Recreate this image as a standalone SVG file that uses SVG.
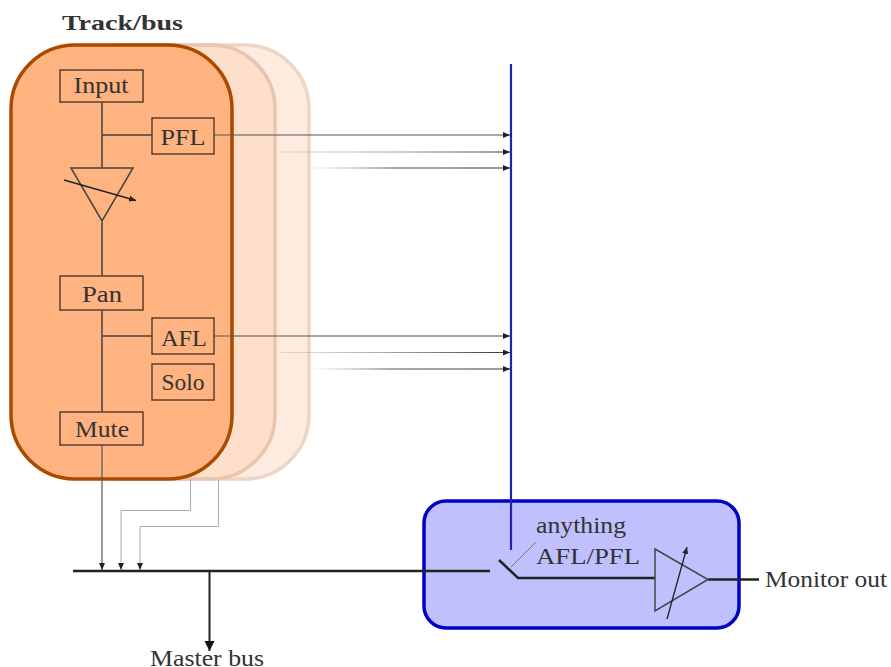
<svg xmlns="http://www.w3.org/2000/svg" width="891" height="667" viewBox="0 0 891 667">
<style>
text{font-family:"Liberation Serif","Times New Roman",serif;font-size:24px;fill:#333;text-anchor:middle}
.b{fill:none;stroke:#5a4030;stroke-width:1.5}
.w{fill:none;stroke:#444;stroke-width:1.5}
.k{fill:none;stroke:#222;stroke-width:2.5}
.t{fill:none;stroke:#555;stroke-width:1.2}
</style>
<defs>
<marker id="a" markerUnits="userSpaceOnUse" markerWidth="8" markerHeight="6" refX="7" refY="3" orient="auto"><path d="M0 0L7 3L0 6Z" fill="#222"/></marker>
<marker id="big" markerUnits="userSpaceOnUse" markerWidth="11" markerHeight="11" refX="10" refY="5" orient="auto"><path d="M0 0L10 5L0 10Z" fill="#111"/></marker>
<linearGradient id="f1" gradientUnits="userSpaceOnUse" x1="280" y1="0" x2="510" y2="0"><stop offset="0" stop-color="#999" stop-opacity=".25"/><stop offset="1" stop-color="#333"/></linearGradient>
<linearGradient id="f2" gradientUnits="userSpaceOnUse" x1="312" y1="0" x2="510" y2="0"><stop offset="0" stop-color="#999" stop-opacity=".1"/><stop offset=".4" stop-color="#555"/><stop offset="1" stop-color="#333"/></linearGradient>
</defs>
<g id="track-back-2"><rect x="88" y="45" width="221" height="434" rx="64" fill="#fdebdf" stroke="#ecd6c6" stroke-width="3.5"/></g>
<g id="track-back-1"><rect x="54" y="45" width="221" height="434" rx="64" fill="#fddfca" stroke="#e8c6ae" stroke-width="3.5"/></g>
<g id="track-front"><rect x="11" y="45" width="221" height="434" rx="64" fill="#ffb380" stroke="#a84b00" stroke-width="3.5"/></g>
<g id="monitor-panel"><rect x="424" y="501" width="315" height="127" rx="22" fill="#c0c0ff" stroke="#0000c8" stroke-width="3.5"/></g>
<g id="connectors">
<path class="w" d="M102 102V168M102 135H152M102 222V276M102 310V412M102 336H152"/>
<path class="t" d="M214 135H510" marker-end="url(#a)"/>
<path class="t" d="M214 336H510" marker-end="url(#a)"/>
<path d="M280 152H510" fill="none" stroke="url(#f1)" stroke-width="1.1" marker-end="url(#a)"/>
<path d="M280 352.500H510" fill="none" stroke="url(#f1)" stroke-width="1.1" marker-end="url(#a)"/>
<path d="M312 168H510" fill="none" stroke="url(#f2)" stroke-width="1.1" marker-end="url(#a)"/>
<path d="M312 369H510" fill="none" stroke="url(#f2)" stroke-width="1.1" marker-end="url(#a)"/>
<path class="t" d="M102 445V570" marker-end="url(#a)"/>
<path fill="none" stroke="#aaa" stroke-width="1" d="M190.500 480V510.500H121V570" marker-end="url(#a)"/>
<path fill="none" stroke="#aaa" stroke-width="1" d="M218.500 480V526.500H140V570" marker-end="url(#a)"/>
<path d="M511 64V550" fill="none" stroke="#2222aa" stroke-width="2.200"/>
<path class="k" d="M73 571H490"/>
<path d="M209.500 571V651" fill="none" stroke="#222" stroke-width="2" marker-end="url(#big)"/>
<path class="k" d="M499 560L518 578H655"/>
<path d="M511 567L536 542" fill="none" stroke="#777" stroke-width="1"/>
<path class="k" d="M708 579.500H759" stroke-width="1.800"/>
</g>
<g id="input"><rect class="b" x="60" y="70" width="83" height="32"/><text x="101" y="93" textLength="55" lengthAdjust="spacingAndGlyphs">Input</text></g>
<g id="pfl"><rect class="b" x="152" y="118" width="62" height="36"/><text x="183" y="145" textLength="45" lengthAdjust="spacingAndGlyphs">PFL</text></g>
<g id="fader"><path class="w" d="M71 168H133L102 221Z"/><path d="M64 180L136 200.500" fill="none" stroke="#222" stroke-width="1.300" marker-end="url(#a)"/></g>
<g id="pan"><rect class="b" x="60" y="276" width="83" height="34"/><text x="102" y="302" textLength="40" lengthAdjust="spacingAndGlyphs">Pan</text></g>
<g id="afl"><rect class="b" x="152" y="318" width="62" height="36"/><text x="184" y="346" textLength="46" lengthAdjust="spacingAndGlyphs">AFL</text></g>
<g id="solo"><rect class="b" x="152" y="364" width="62" height="36"/><text x="183" y="390" textLength="43" lengthAdjust="spacingAndGlyphs">Solo</text></g>
<g id="mute"><rect class="b" x="60" y="412" width="83" height="33"/><text x="102" y="437" textLength="54" lengthAdjust="spacingAndGlyphs">Mute</text></g>
<g id="monitor-amp"><path class="w" d="M655 549L708 579.500L655 611Z"/><path d="M667 619L687 547" fill="none" stroke="#222" stroke-width="1.300" marker-end="url(#a)"/></g>
<g id="labels">
<text x="122.500" y="30" font-weight="bold" style="font-size:22px" textLength="121" lengthAdjust="spacingAndGlyphs">Track/bus</text>
<text x="581" y="533" textLength="90" lengthAdjust="spacingAndGlyphs">anything</text>
<text x="588" y="564" textLength="104" lengthAdjust="spacingAndGlyphs">AFL/PFL</text>
<text x="826" y="587" textLength="122" lengthAdjust="spacingAndGlyphs">Monitor out</text>
<text x="207" y="666" textLength="114" lengthAdjust="spacingAndGlyphs">Master bus</text>
</g>
</svg>
